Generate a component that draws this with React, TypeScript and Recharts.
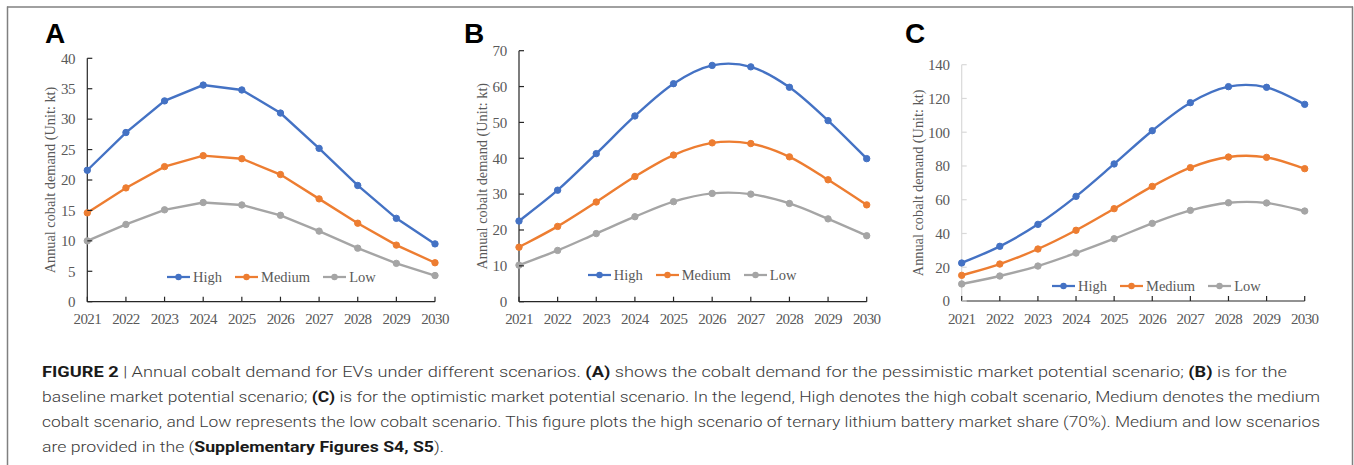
import React from "react";
import { LineChart, Line, XAxis, YAxis, Legend } from "recharts";

// ---------- data ----------
const YEARS = [2021, 2022, 2023, 2024, 2025, 2026, 2027, 2028, 2029, 2030];

const A_HIGH = [21.6, 27.8, 33.0, 35.6, 34.8, 31.0, 25.2, 19.1, 13.7, 9.5];
const A_MEDIUM = [14.6, 18.7, 22.2, 24.0, 23.5, 20.9, 16.9, 12.9, 9.3, 6.4];
const A_LOW = [10.0, 12.7, 15.1, 16.3, 15.9, 14.2, 11.6, 8.8, 6.3, 4.3];

const B_HIGH = [22.5, 31.1, 41.3, 51.8, 60.8, 65.9, 65.5, 59.8, 50.5, 39.9];
const B_MEDIUM = [15.2, 21.0, 27.8, 34.9, 40.9, 44.3, 44.1, 40.4, 34.0, 27.0];
const B_LOW = [10.2, 14.3, 19.0, 23.7, 27.9, 30.2, 30.0, 27.4, 23.1, 18.4];

const C_HIGH = [22.5, 32.4, 45.4, 62.0, 81.2, 100.9, 117.5, 127.0, 126.6, 116.5];
const C_MEDIUM = [15.2, 21.9, 30.8, 41.9, 54.7, 67.9, 79.0, 85.3, 85.1, 78.4];
const C_LOW = [10.1, 14.8, 20.7, 28.4, 36.9, 46.0, 53.7, 58.2, 58.1, 53.3];

const A_TICKS = [0, 5, 10, 15, 20, 25, 30, 35, 40];
const B_TICKS = [0, 10, 20, 30, 40, 50, 60, 70];
const C_TICKS = [0, 20, 40, 60, 80, 100, 120, 140];

const SERIES_NAMES = ["High", "Medium", "Low"];
const Y_LABEL = "Annual cobalt demand (Unit: kt)";

const build = (h: number[], m: number[], l: number[]) =>
  YEARS.map((year, i) => ({ year, high: h[i], medium: m[i], low: l[i] }));

const DATA_A = build(A_HIGH, A_MEDIUM, A_LOW);
const DATA_B = build(B_HIGH, B_MEDIUM, B_LOW);
const DATA_C = build(C_HIGH, C_MEDIUM, C_LOW);

// ---------- styles ----------
const COLORS = { high: "#4472C4", medium: "#ED7D31", low: "#A5A5A5" };
const SERIF = "'Liberation Serif', 'Times New Roman', serif";
const SANS = "'Liberation Sans', Arial, Helvetica, sans-serif";
const TEXT_GRAY = "#595959";

// Excel-like smoothing (Catmull-Rom style bezier)
const excelCurve = (context: any) => {
  let pts: number[][] = [];
  return {
    areaStart() {},
    areaEnd() {},
    lineStart() {
      pts = [];
    },
    point(x: number, y: number) {
      pts.push([+x, +y]);
    },
    lineEnd() {
      if (!pts.length) return;
      context.moveTo(pts[0][0], pts[0][1]);
      for (let i = 0; i < pts.length - 1; i++) {
        const p0 = pts[i - 1] || pts[i];
        const p1 = pts[i];
        const p2 = pts[i + 1];
        const p3 = pts[i + 2] || pts[i + 1];
        const c1x = p1[0] + (p2[0] - p0[0]) / 6;
        const c1y = p1[1] + (p2[1] - p0[1]) / 6;
        const c2x = p2[0] - (p3[0] - p1[0]) / 6;
        const c2y = p2[1] - (p3[1] - p1[1]) / 6;
        context.bezierCurveTo(c1x, c1y, c2x, c2y, p2[0], p2[1]);
      }
    },
  };
};

type PanelProps = {
  data: any[];
  ticks: number[];
  left: number;
  width: number;
  plotLeft: number;
  plotRight: number;
  plotTop: number;
  plotBottom: number;
  smooth: boolean;
  yAxisColor: string;
  labelOffset: number;
  legendX: number;
  legendY: number;
};

const H = 340;
const YAXIS_W = 60;
const XAXIS_H = 30;

const renderLegend = (props: any) => {
  const payload = [...(props.payload || [])].sort(
    (a: any, b: any) => SERIES_NAMES.indexOf(a.value) - SERIES_NAMES.indexOf(b.value)
  );
  return (
    <div
      style={{
        display: "flex",
        alignItems: "center",
        fontFamily: SERIF,
        fontSize: 14.5,
        color: TEXT_GRAY,
        height: 16,
        whiteSpace: "nowrap",
      }}
    >
      {payload.map((p: any, i: number) => (
        <div
          key={i}
          style={{ display: "flex", alignItems: "center", marginRight: 13 }}
        >
          <svg width={23} height={10} style={{ display: "block" }}>
            <line x1={0} y1={5} x2={23} y2={5} stroke={p.color} strokeWidth={2.25} />
            <circle cx={11.5} cy={5} r={3.2} fill={p.color} />
          </svg>
          <span style={{ marginLeft: 3, lineHeight: "16px" }}>{p.value}</span>
        </div>
      ))}
    </div>
  );
};

const Panel = (p: PanelProps) => {
  const margin = {
    top: p.plotTop,
    bottom: H - p.plotBottom - XAXIS_H,
    left: p.plotLeft - p.left - YAXIS_W,
    right: p.left + p.width - p.plotRight,
  };
  const xAxisColor = "#262626";
  const XTick = (t: any) => (
    <g>
      <line x1={t.x} x2={t.x} y1={p.plotBottom} y2={p.plotBottom - 5} stroke={xAxisColor} strokeWidth={1.2} />
      <text
        x={t.x}
        y={p.plotBottom + 22.5}
        textAnchor="middle"
        fontFamily={SERIF}
        fontSize={15}
        letterSpacing={-0.6}
        fill={TEXT_GRAY}
      >
        {t.payload.value}
      </text>
    </g>
  );
  const axisX = p.plotLeft - p.left;
  const YTick = (t: any) => (
    <g>
      <line x1={axisX} x2={axisX + 5} y1={t.y} y2={t.y} stroke={p.yAxisColor} strokeWidth={1.2} />
      <text
        x={axisX - 12}
        y={t.y + 5.3}
        textAnchor="end"
        fontFamily={SERIF}
        fontSize={15}
        letterSpacing={-0.3}
        fill={TEXT_GRAY}
      >
        {t.payload.value}
      </text>
    </g>
  );
  const YLabel = (lp: any) => {
    const vb = lp.viewBox || {};
    const cx = vb.x + vb.width - p.labelOffset;
    const cy = vb.y + vb.height / 2;
    return (
      <text
        x={cx}
        y={cy}
        transform={`rotate(-90 ${cx} ${cy})`}
        textAnchor="middle"
        dominantBaseline="central"
        fontFamily={SERIF}
        fontSize={14.3}
        fill={TEXT_GRAY}
      >
        {Y_LABEL}
      </text>
    );
  };
  const curve: any = p.smooth ? excelCurve : "linear";
  const keys: ("high" | "medium" | "low")[] = ["high", "medium", "low"];
  return (
    <div style={{ position: "absolute", left: p.left, top: 0, width: p.width, height: H }}>
      <LineChart width={p.width} height={H} data={p.data} margin={margin}>
        <XAxis
          type="number"
          dataKey="year"
          domain={[YEARS[0], YEARS[YEARS.length - 1]]}
          ticks={YEARS}
          interval={0}
          height={XAXIS_H}
          tickSize={0}
          tickMargin={0}
          tickLine={false}
          axisLine={{ stroke: xAxisColor, strokeWidth: 1.2 }}
          tick={XTick}
          allowDecimals={false}
        />
        <YAxis
          type="number"
          domain={[0, p.ticks[p.ticks.length - 1]]}
          ticks={p.ticks}
          interval={0}
          width={YAXIS_W}
          tickSize={0}
          tickMargin={0}
          tickLine={false}
          axisLine={{ stroke: p.yAxisColor, strokeWidth: 1.2 }}
          tick={YTick}
          label={YLabel}
        />
        <Legend
          layout="horizontal"
          verticalAlign="middle"
          align="center"
          content={renderLegend}
          wrapperStyle={{ left: p.legendX - p.left, top: p.legendY - 8, width: "auto" }}
        />
        {keys.map((k, i) => (
          <Line
            key={k}
            dataKey={k}
            name={SERIES_NAMES[i]}
            type={curve}
            stroke={COLORS[k]}
            strokeWidth={2.4}
            dot={{ r: 3.2, fill: COLORS[k], stroke: COLORS[k], strokeWidth: 1 }}
            activeDot={false}
            isAnimationActive={false}
          />
        ))}
      </LineChart>
    </div>
  );
};

const CAP_FONT = "Roboto, 'Liberation Sans', Arial, sans-serif";
const CAP_COLOR = "#3a3a3a";
const CAP_BOLD = "#1a1a1a";

export default function App() {
  return (
    <div
      style={{
        position: "absolute",
        left: 0,
        top: 0,
        width: 1354,
        height: 465,
        background: "#ffffff",
        overflow: "hidden",
      }}
    >
      <Panel
        data={DATA_A}
        ticks={A_TICKS}
        left={0}
        width={450}
        plotLeft={87.3}
        plotRight={435}
        plotTop={58.3}
        plotBottom={301.7}
        smooth={false}
        yAxisColor="#262626"
        labelOffset={37.3}
        legendX={167}
        legendY={277}
      />
      <Panel
        data={DATA_B}
        ticks={B_TICKS}
        left={450}
        width={450}
        plotLeft={519}
        plotRight={866.7}
        plotTop={50.7}
        plotBottom={301.7}
        smooth={true}
        yAxisColor="#262626"
        labelOffset={37.3}
        legendX={587.7}
        legendY={275.3}
      />
      <Panel
        data={DATA_C}
        ticks={C_TICKS}
        left={890}
        width={464}
        plotLeft={961.7}
        plotRight={1304.7}
        plotTop={64.7}
        plotBottom={301}
        smooth={true}
        yAxisColor="#D9D9D9"
        labelOffset={43.7}
        legendX={1052}
        legendY={286}
      />
      <svg
        width={1354}
        height={465}
        style={{ position: "absolute", left: 0, top: 0, pointerEvents: "none" }}
      >
        <line x1={7} y1={7} x2={1353} y2={7} stroke="#808080" strokeWidth={1.5} />
        <line x1={7.5} y1={6.5} x2={7.5} y2={465} stroke="#808080" strokeWidth={1.5} />
        <line x1={1352.5} y1={6.5} x2={1352.5} y2={465} stroke="#808080" strokeWidth={1.5} />
        <text x={45} y={43} fontFamily={SANS} fontWeight={700} fontSize={28} fill="#000">A</text>
        <text x={464} y={43} fontFamily={SANS} fontWeight={700} fontSize={28} fill="#000">B</text>
        <text x={905} y={43} fontFamily={SANS} fontWeight={700} fontSize={28} fill="#000">C</text>
        <g fontFamily={CAP_FONT} fontSize={15.5} fill={CAP_COLOR} fontWeight={300}>
          <text x={42} y={377} textLength={1245} lengthAdjust="spacingAndGlyphs">
            <tspan fontWeight={700} fill={CAP_BOLD}>FIGURE 2</tspan> | Annual cobalt demand for EVs under different scenarios. <tspan fontWeight={700} fill={CAP_BOLD}>(A)</tspan> shows the cobalt demand for the pessimistic market potential scenario; <tspan fontWeight={700} fill={CAP_BOLD}>(B)</tspan> is for the
          </text>
          <text x={42} y={402} textLength={1278} lengthAdjust="spacingAndGlyphs">
            baseline market potential scenario; <tspan fontWeight={700} fill={CAP_BOLD}>(C)</tspan> is for the optimistic market potential scenario. In the legend, High denotes the high cobalt scenario, Medium denotes the medium
          </text>
          <text x={42} y={427} textLength={1278} lengthAdjust="spacingAndGlyphs">
            cobalt scenario, and Low represents the low cobalt scenario. This figure plots the high scenario of ternary lithium battery market share (70%). Medium and low scenarios
          </text>
          <text x={42} y={452} textLength={402} lengthAdjust="spacingAndGlyphs">
            are provided in the (<tspan fontWeight={700} fill={CAP_BOLD}>Supplementary Figures S4, S5</tspan>).
          </text>
        </g>
      </svg>
    </div>
  );
}
